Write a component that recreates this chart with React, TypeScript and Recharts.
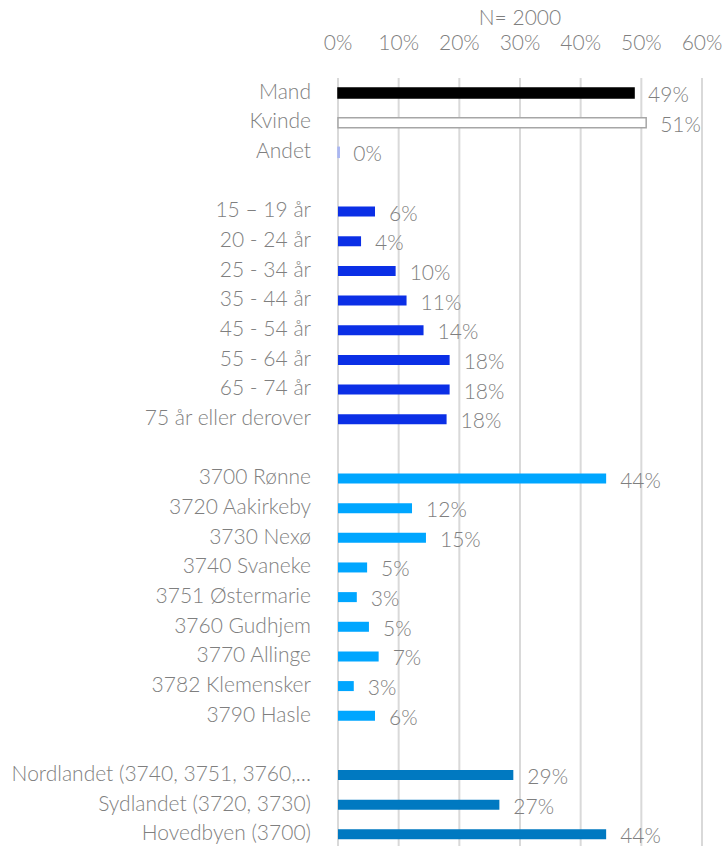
import { BarChart, Bar, XAxis, YAxis, CartesianGrid, Cell, LabelList } from "recharts";

const genderLabels = ["Mand", "Kvinde", "Andet"];
const genderValues = [48.8, 50.8, 0.2];

const ageLabels = ["15 – 19 år", "20 - 24 år", "25 - 34 år", "35 - 44 år", "45 - 54 år", "55 - 64 år", "65 - 74 år", "75 år eller derover"];
const ageValues = [6.1, 3.8, 9.5, 11.3, 14.1, 18.4, 18.4, 17.9];

const townLabels = ["3700 Rønne", "3720 Aakirkeby", "3730 Nexø", "3740 Svaneke", "3751 Østermarie", "3760 Gudhjem", "3770 Allinge", "3782 Klemensker", "3790 Hasle"];
const townValues = [44.2, 12.2, 14.5, 4.8, 3.1, 5.1, 6.7, 2.6, 6.1];

const regionLabels = ["Nordlandet (3740, 3751, 3760,…", "Sydlandet (3720, 3730)", "Hovedbyen (3700)"];
const regionValues = [28.9, 26.6, 44.2];

const xTicks = [0, 10, 20, 30, 40, 50, 60];

const FONT = "Lato, 'Open Sans', sans-serif";
const GREY = "#7f7f7f";
const FS = 21;

type Row = { name: string; value: number | null; fill: string; stroke: string };

const genderFills = ["#000000", "#ffffff", "#c9d1f7"];
const genderStrokes = ["#000000", "#a6a6a6", "#a9b6f2"];

const rows: Row[] = [
  ...genderLabels.map((n, i) => ({ name: n, value: genderValues[i], fill: genderFills[i], stroke: genderStrokes[i] })),
  { name: "gap1", value: null, fill: "none", stroke: "none" },
  ...ageLabels.map((n, i) => ({ name: n, value: ageValues[i], fill: "#0b2fe6", stroke: "none" })),
  { name: "gap2", value: null, fill: "none", stroke: "none" },
  ...townLabels.map((n, i) => ({ name: n, value: townValues[i], fill: "#00a6ff", stroke: "none" })),
  { name: "gap3", value: null, fill: "none", stroke: "none" },
  ...regionLabels.map((n, i) => ({ name: n, value: regionValues[i], fill: "#0079c1", stroke: "none" })),
];

const XTick = (props: any) => {
  const { x, payload } = props;
  return (
    <text x={x} y={50} textAnchor="middle" fontSize={FS} fontWeight={300} fontFamily={FONT} fill={GREY}>
      {payload.value}%
    </text>
  );
};

const YTick = (props: any) => {
  const { y, payload } = props;
  if (String(payload.value).startsWith("gap")) return null;
  return (
    <text x={311} y={y + 6} textAnchor="end" fontSize={FS} fontWeight={300} fontFamily={FONT} fill={GREY}>
      {payload.value}
    </text>
  );
};

const ValueLabel = (props: any) => {
  const { x, y, width, height, value } = props;
  if (value == null) return null;
  return (
    <text x={x + width + 14} y={y + height / 2 + 9} fontSize={FS} fontWeight={300} fontFamily={FONT} fill={GREY}>
      {Math.round(value)}%
    </text>
  );
};

export default function App() {
  return (
    <div style={{ position: "fixed", top: 0, left: 0, width: 728, height: 846, overflow: "hidden", background: "#fff" }}>
      <div
        style={{
          position: "absolute",
          top: 4,
          left: 0,
          width: 1040,
          textAlign: "center",
          fontFamily: FONT,
          fontWeight: 300,
          fontSize: FS,
          color: GREY,
          lineHeight: "26px",
        }}
      >
        N= 2000
      </div>
      <BarChart
        width={728}
        height={855}
        data={rows}
        layout="vertical"
        margin={{ top: 0, right: 26, left: 0, bottom: 6 }}
        barSize={10}
      >
        <CartesianGrid horizontal={false} stroke="#d9d9d9" strokeWidth={2} />
        <XAxis
          type="number"
          orientation="top"
          domain={[0, 60]}
          ticks={xTicks}
          height={78}
          axisLine={false}
          tickLine={false}
          tick={<XTick />}
          interval={0}
        />
        <YAxis
          type="category"
          dataKey="name"
          width={338}
          axisLine={false}
          tickLine={false}
          tick={<YTick />}
          interval={0}
        />
        <Bar dataKey="value" isAnimationActive={false} strokeWidth={1.5}>
          {rows.map((r, i) => (
            <Cell key={i} fill={r.fill} stroke={r.stroke} />
          ))}
          <LabelList dataKey="value" content={<ValueLabel />} />
        </Bar>
      </BarChart>
    </div>
  );
}
